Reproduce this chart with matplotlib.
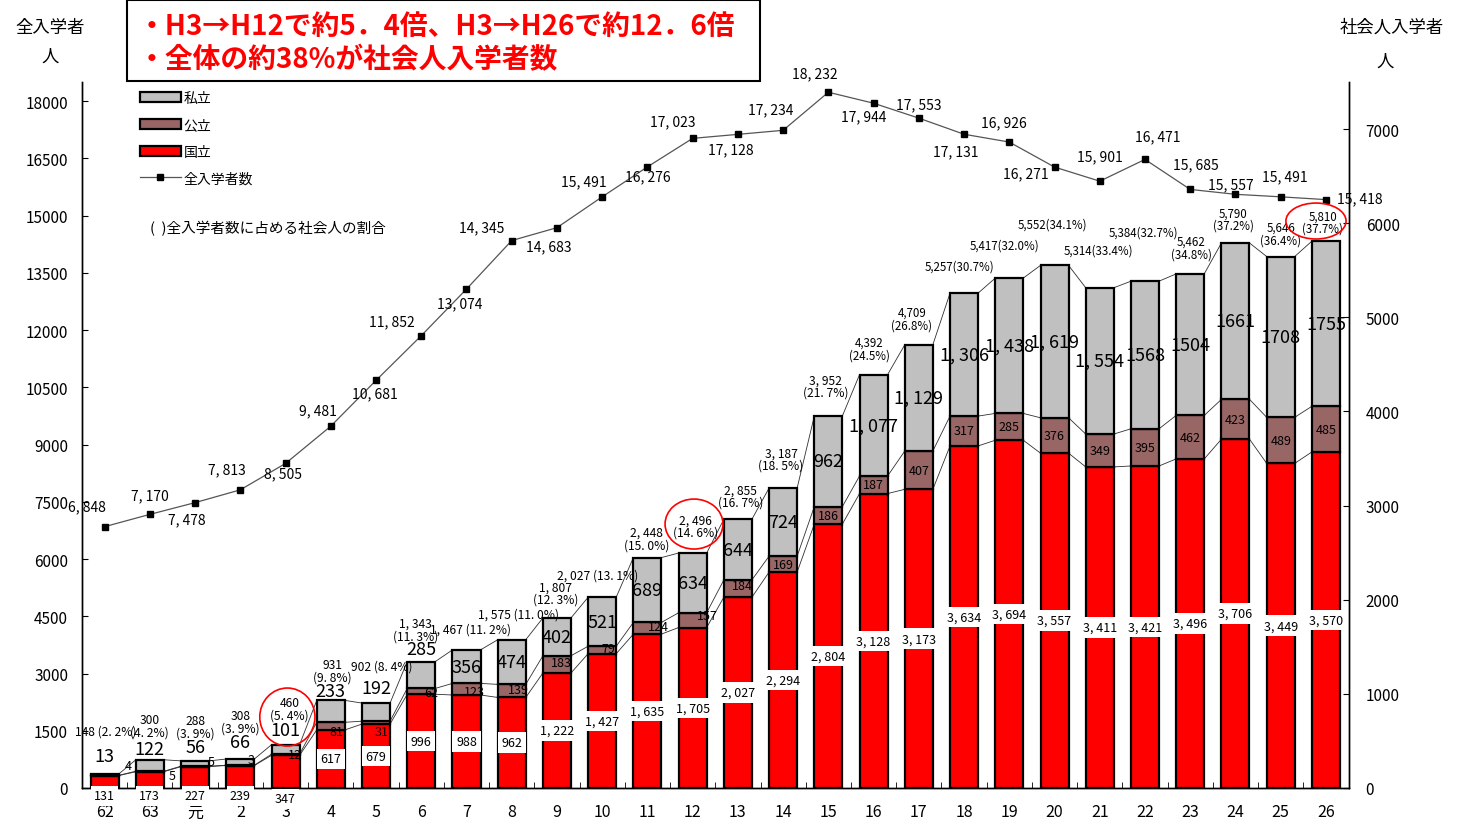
import numpy as np
import matplotlib
matplotlib.use('Agg')
import matplotlib.pyplot as plt
from matplotlib.patches import Patch, Ellipse, Rectangle
from matplotlib.lines import Line2D

plt.rcParams['font.family'] = ['Noto Sans CJK JP', 'DejaVu Sans']

# ---------------- data ----------------
years = ['62', '63', '元', '2', '3', '4', '5', '6', '7', '8', '9', '10', '11', '12',
         '13', '14', '15', '16', '17', '18', '19', '20', '21', '22', '23', '24', '25', '26']
total_entrants = [6848, 7170, 7478, 7813, 8505, 9481, 10681, 11852, 13074, 14345, 14683,
                  15491, 16276, 17023, 17128, 17234, 18232, 17944, 17553, 17131, 16926,
                  16271, 15901, 16471, 15685, 15557, 15491, 15418]
national = [131, 173, 227, 239, 347, 617, 679, 996, 988, 962, 1222, 1427, 1635, 1705,
            2027, 2294, 2804, 3128, 3173, 3634, 3694, 3557, 3411, 3421, 3496, 3706, 3449, 3570]
public = [4, 5, 5, 3, 12, 81, 31, 62, 123, 139, 183, 79, 124, 157,
          184, 169, 186, 187, 407, 317, 285, 376, 349, 395, 462, 423, 489, 485]
private = [13, 122, 56, 66, 101, 233, 192, 285, 356, 474, 402, 521, 689, 634,
           644, 724, 962, 1077, 1129, 1306, 1438, 1619, 1554, 1568, 1504, 1661, 1708, 1755]
working_total = [148, 300, 288, 308, 460, 931, 902, 1343, 1467, 1575, 1807, 2027, 2448, 2496,
                 2855, 3187, 3952, 4392, 4709, 5257, 5417, 5552, 5314, 5384, 5462, 5790, 5646, 5810]
working_pct = [2.2, 4.2, 3.9, 3.9, 5.4, 9.8, 8.4, 11.3, 11.2, 11.0, 12.3, 13.1, 15.0, 14.6,
               16.7, 18.5, 21.7, 24.5, 26.8, 30.7, 32.0, 34.1, 33.4, 32.7, 34.8, 37.2, 36.4, 37.7]

# ---------------- layout helpers (pixel offsets for labels) ----------------
line_lbl_off = [(-18, -20), (0, -19), (-8, 17), (-13, -21), (-3, 10), (-13, -16), (-1, 13),
                (-29, -14), (-7, 14), (-30, -13), (-8, 19), (-18, -16), (0, 9), (-20, -17),
                (-7, 15), (-12, -21), (-14, -19), (-10, 13), (0, -14), (-8, 17), (-5, -20),
                (-29, 6), (0, -25), (13, -23), (6, -25), (-5, -10), (4, -21), (34, -1)]
tot_lbl_off = [(1, -43), (0, -34), (0, -34), (0, -37), (4, -36), (2, -30), (6, -37), (-6, -32),
               (4, -21), (7, -26), (-1, -25), (-5, -22), (-1, -19), (3, -27), (3, -23), (-2, -29),
               (-3, -30), (-4, -26), (-7, -26), (-5, -27), (-5, -33), (-2, -41), (-1, -38),
               (-2, -49), (1, -26), (-2, -24), (0, -23), (-3, -19)]
single_line_idx = {0, 6, 8, 9, 11, 19, 20, 21, 22, 23}
pri_above_off = [18, 11, 14, 17, 15, 9, 15, 13]
pub_dx = [24, 22, 16, 11, 9, 6, 6, 10, 8, 7, 4, 6, 11, 15, 5]
pub_dy = [-10, 4, -5, -6, 0, 5, 9, 1, 2, -1, -2, -1, -2, -5, -3]

W, H = 1469, 820
fig = plt.figure(figsize=(W / 100, H / 100), dpi=100)
L, R, B, T = 82, 1349, 789, 83
ax = fig.add_axes([L / W, 1 - B / H, (R - L) / W, (B - T) / H])
ax2 = ax.twinx()

x = np.arange(len(years))
w = 0.62
nat = np.array(national)
pub = np.array(public)
pri = np.array(private)
c1 = nat
c2 = nat + pub
c3 = nat + pub + pri

bar_kw = dict(edgecolor='black', linewidth=1.6, zorder=3)
ax2.bar(x, nat, w, color='#FF0000', **bar_kw)
ax2.bar(x, pub, w, bottom=c1, color='#996666', **bar_kw)
ax2.bar(x, pri, w, bottom=c2, color='#C0C0C0', **bar_kw)

# series lines between bars
for lev in (c1, c2, c3):
    for i in range(len(x) - 1):
        ax2.plot([x[i] + w / 2, x[i + 1] - w / 2], [lev[i], lev[i + 1]],
                 color='#303030', lw=0.6, zorder=2)

# total entrants line
ax.plot(x, total_entrants, color='#555555', lw=0.9, marker='s', ms=5,
        mfc='black', mec='black', zorder=5)

ax.set_xlim(-0.49, 27.51)
ax.set_ylim(0, 18500)
ax2.set_ylim(0, 7500)
ax.set_yticks(range(0, 18001, 1500))
ax2.set_yticks(range(0, 7001, 1000))
ax.tick_params(axis='y', direction='in', length=4, labelsize=11, pad=10)
ax2.tick_params(axis='y', direction='in', length=4, labelsize=11, pad=12)
ax.set_xticks(x)
ax.set_xticklabels(years, fontsize=11.5)
ax.tick_params(axis='x', which='major', length=0, pad=11)
ax.set_xticks(np.arange(-0.5, 28, 1), minor=True)
ax.tick_params(axis='x', which='minor', direction='in', length=4)
for a in (ax, ax2):
    a.spines['top'].set_visible(False)
    for s in a.spines.values():
        s.set_linewidth(1.0)


def fmt_sp(v):
    return f'{v:,}'.replace(',', ', ')


# line labels
for i, v in enumerate(total_entrants):
    dx, dy = line_lbl_off[i]
    ax.annotate(fmt_sp(v), (x[i], v), xytext=(dx, -dy), textcoords='offset pixels',
                ha='center', va='center', fontsize=10, zorder=6)

# working total labels
for i, v in enumerate(working_total):
    p = working_pct[i]
    if i <= 16:
        num = fmt_sp(v)
        pct = f'({p:.1f}%)'.replace('.', '. ')
    else:
        num = f'{v:,}'
        pct = f'({p:.1f}%)'
    if i in single_line_idx:
        txt = f'{num} {pct}' if i <= 16 else f'{num}{pct}'
    else:
        txt = f'{num}\n{pct}'
    dx, dy = tot_lbl_off[i]
    fs = 8.7 if i <= 16 else 8.3
    ax2.annotate(txt, (x[i], c3[i]), xytext=(dx, -dy), textcoords='offset pixels',
                 ha='center', va='center', fontsize=fs, linespacing=0.95, zorder=6)

# private labels
for i, v in enumerate(private):
    if 17 <= i <= 22:
        txt = fmt_sp(v)
    else:
        txt = f'{v}'
    if i < len(pri_above_off):
        ax2.annotate(txt, (x[i], c3[i]), xytext=(0, pri_above_off[i]), textcoords='offset pixels',
                     ha='center', va='center', fontsize=13, zorder=6)
    else:
        ax2.annotate(txt, (x[i], (c2[i] + c3[i]) / 2), ha='center', va='center',
                     fontsize=13, zorder=6)

# public labels
for i, v in enumerate(public):
    if i < len(pub_dx):
        dx, dy = pub_dx[i], pub_dy[i]
    else:
        dx, dy = 0, 0
    ax2.annotate(f'{v}', (x[i], (c1[i] + c2[i]) / 2), xytext=(dx, -dy),
                 textcoords='offset pixels', ha='center', va='center', fontsize=9, zorder=6)

# national labels
for i, v in enumerate(national):
    txt = fmt_sp(v)
    if i <= 4:
        off = 11 if i == 4 else 8
        ax2.annotate(txt, (x[i], 0), xytext=(0, -off), textcoords='offset pixels',
                     ha='center', va='center', fontsize=9, zorder=7, annotation_clip=False,
                     bbox=dict(boxstyle='square,pad=0.25', fc='white', ec='none'))
    else:
        ax2.annotate(txt, (x[i], v / 2), ha='center', va='center', fontsize=9, zorder=7,
                     bbox=dict(boxstyle='square,pad=0.3', fc='white', ec='none'))

# red ellipses
for cx, cy, ew, eh in [(4.04, 754, 1.22, 616), (13.03, 2804, 1.28, 531), (26.78, 6023, 1.33, 382)]:
    ax2.add_patch(Ellipse((cx, cy), ew, eh, fill=False, ec='red', lw=1.2, zorder=8))

# legend
handles = [Patch(fc='#C0C0C0', ec='black', lw=1.6, label='私立'),
           Patch(fc='#996666', ec='black', lw=1.6, label='公立'),
           Patch(fc='#FF0000', ec='black', lw=1.6, label='国立'),
           Line2D([], [], color='#555555', lw=0.9, marker='s', ms=4, mfc='black', mec='black',
                  label='全入学者数')]
ax2.legend(handles=handles, loc='upper left', bbox_to_anchor=((140 - L) / (R - L), (B - 92) / (B - T)),
           frameon=False, fontsize=10, handlelength=2.95, handleheight=0.7, labelspacing=0.92,
           handletextpad=0.2, borderpad=0, borderaxespad=0)

fig.text(150 / W, 1 - 229 / H, '(  )全入学者数に占める社会人の割合', fontsize=10.5, va='center', ha='left')

# axis titles
fig.text(50 / W, 1 - 28 / H, '全入学者', ha='center', va='center', fontsize=12.5)
fig.text(50 / W, 1 - 57 / H, '人', ha='center', va='center', fontsize=12.5)
fig.text(1392 / W, 1 - 28 / H, '社会人入学者', ha='center', va='center', fontsize=12.5)
fig.text(1385 / W, 1 - 62 / H, '人', ha='center', va='center', fontsize=12.5)

# headline box
fig.add_artist(Rectangle((127 / W, 1 - 82 / H), (760 - 127) / W, 81 / H, transform=fig.transFigure,
                         fc='white', ec='black', lw=1.5, zorder=1))
fig.text(138 / W, 1 - 27 / H, '・H3→H12で約5．4倍、H3→H26で約12．6倍', color='#FF0000',
         fontsize=20, fontweight='bold', ha='left', va='center', zorder=2)
fig.text(138 / W, 1 - 60 / H, '・全体の約38%が社会人入学者数', color='#FF0000',
         fontsize=20, fontweight='bold', ha='left', va='center', zorder=2)

fig.savefig('out.png', dpi=100)
